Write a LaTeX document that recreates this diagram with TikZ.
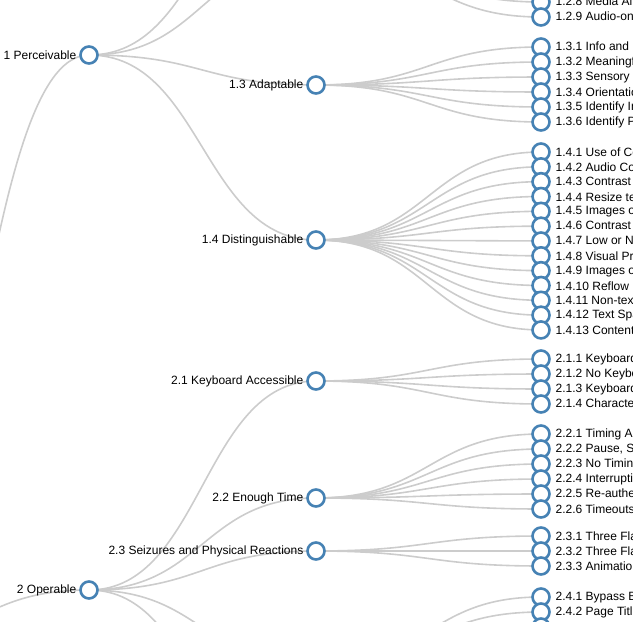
\documentclass[tikz,border=0pt]{standalone}
\usepackage{fontspec}
\setmainfont{Liberation Sans}
\usetikzlibrary{calc}
\definecolor{steel}{HTML}{4682B4}
\definecolor{lnk}{HTML}{CCCCCC}
\tikzset{
  nd/.style={circle,draw=steel,fill=white,line width=2.6pt,minimum size=17pt,inner sep=0pt},
  lb/.style={font=\fontsize{12}{13}\selectfont,inner sep=0pt},
  edge/.style={draw=lnk,line width=1.6pt}
}
\newcommand{\lk}[2]{\draw[edge] let \p1=(#1),\p2=(#2) in (\p1) .. controls ({(\x1+\x2)/2},\y1) and ({(\x1+\x2)/2},\y2) .. (\p2);}
\begin{document}
\begin{tikzpicture}[x=1pt,y=-1pt]
\useasboundingbox (0,0) rectangle (633,622);
\clip (0,0) rectangle (633,622);
% coordinates
\coordinate (root) at (-138,647);
\coordinate (p1) at (89,55);
\coordinate (p2) at (89,590);
\coordinate (g11) at (316,-132);
\coordinate (g12) at (316,-43);
\coordinate (g13) at (316,85);
\coordinate (g14) at (316,240);
\coordinate (g21) at (316,381);
\coordinate (g22) at (316,498);
\coordinate (g23) at (316,551);
\coordinate (g24) at (316,665);
\coordinate (g25) at (316,800);
% leaf coordinates
\coordinate (l111) at (541,-132);
\foreach \i in {1,...,9}{\coordinate (l12\i) at (541,{17-(9-\i)*15});}
\foreach \i in {1,...,6}{\coordinate (l13\i) at (541,{47+(\i-1)*15});}
\foreach \i in {1,...,13}{\coordinate (l14\i) at (541,{152+(\i-1)*14.83});}
\foreach \i in {1,...,4}{\coordinate (l21\i) at (541,{359+(\i-1)*15});}
\foreach \i in {1,...,6}{\coordinate (l22\i) at (541,{434+(\i-1)*15});}
\foreach \i in {1,...,3}{\coordinate (l23\i) at (541,{536+(\i-1)*15});}
\foreach \i in {1,...,10}{\coordinate (l24\i) at (541,{597+(\i-1)*15});}
% links
\lk{root}{p1} \lk{root}{p2}
\foreach \g in {g11,g12,g13,g14}{\lk{p1}{\g}}
\foreach \g in {g21,g22,g23,g24,g25}{\lk{p2}{\g}}
\lk{g11}{l111}
\foreach \i in {1,...,9}{\lk{g12}{l12\i}}
\foreach \i in {1,...,6}{\lk{g13}{l13\i}}
\foreach \i in {1,...,13}{\lk{g14}{l14\i}}
\foreach \i in {1,...,4}{\lk{g21}{l21\i}}
\foreach \i in {1,...,6}{\lk{g22}{l22\i}}
\foreach \i in {1,...,3}{\lk{g23}{l23\i}}
\foreach \i in {1,...,10}{\lk{g24}{l24\i}}
% inner nodes
\foreach \c/\t in {p1/1 Perceivable,p2/2 Operable,g13/1.3 Adaptable,g14/1.4 Distinguishable,g21/2.1 Keyboard Accessible,g22/2.2 Enough Time,g23/2.3 Seizures and Physical Reactions}{
  \node[nd] (n\c) at (\c) {};
  \node[lb,anchor=east] (t\c) at ($(\c)+(-12.5,0.5)$) {\t};
}
% leaves
\foreach \c/\t in {
l128/1.2.8 Media Alternative (Prerecorded),
l129/1.2.9 Audio-only (Live),
l131/1.3.1 Info and Relationships,
l132/1.3.2 Meaningful Sequence,
l133/1.3.3 Sensory Characteristics,
l134/1.3.4 Orientation,
l135/1.3.5 Identify Input Purpose,
l136/1.3.6 Identify Purpose,
l141/1.4.1 Use of Color,
l142/1.4.2 Audio Control,
l143/1.4.3 Contrast (Minimum),
l144/1.4.4 Resize text,
l145/1.4.5 Images of Text,
l146/1.4.6 Contrast (Enhanced),
l147/1.4.7 Low or No Background Audio,
l148/1.4.8 Visual Presentation,
l149/1.4.9 Images of Text (No Exception),
l1410/1.4.10 Reflow,
l1411/1.4.11 Non-text Contrast,
l1412/1.4.12 Text Spacing,
l1413/1.4.13 Content on Hover or Focus,
l211/2.1.1 Keyboard,
l212/2.1.2 No Keyboard Trap,
l213/2.1.3 Keyboard (No Exception),
l214/2.1.4 Character Key Shortcuts,
l221/2.2.1 Timing Adjustable,
l222/{2.2.2 Pause, Stop, Hide},
l223/2.2.3 No Timing,
l224/2.2.4 Interruptions,
l225/2.2.5 Re-authenticating,
l226/2.2.6 Timeouts,
l231/2.3.1 Three Flashes or Below Threshold,
l232/2.3.2 Three Flashes,
l233/2.3.3 Animation from Interactions,
l241/2.4.1 Bypass Blocks,
l242/2.4.2 Page Titled,
l243/2.4.3 Focus Order}{
  \node[nd] (n\c) at (\c) {};
  \node[lb,anchor=west] (t\c) at ($(\c)+(14.5,0.5)$) {\t};
}
\end{tikzpicture}
\end{document}
